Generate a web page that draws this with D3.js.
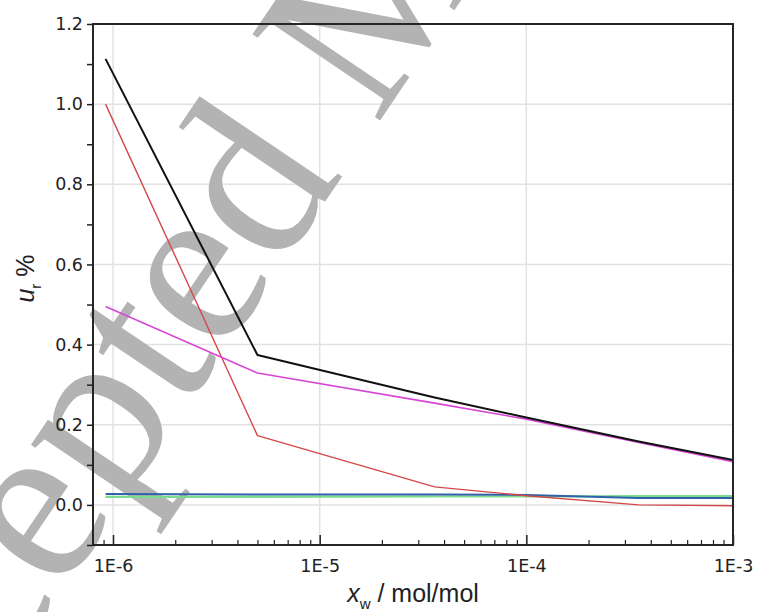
<!DOCTYPE html>
<html>
<head>
<meta charset="utf-8">
<script src="https://cdnjs.cloudflare.com/ajax/libs/d3/7.8.5/d3.min.js"></script>
<style>
  body { margin: 0; background: #fff; }
  svg { display: block; }
  .tick text { font-family: "DejaVu Sans", sans-serif; font-size: 17.5px; fill: #222; }
</style>
</head>
<body>
<svg id="chart" width="758" height="612"></svg>
<script>
// mole fraction of water (x axis, log) and relative uncertainty u_r in %
const xw       = [9.2e-7, 5e-6, 3.6e-5, 1e-4, 3.5e-4, 1e-3];
const uBlack   = [1.113, 0.374, 0.268, 0.218, 0.158, 0.112];
const uMagenta = [0.495, 0.329, 0.254, 0.214, 0.156, 0.108];
const uRed     = [1.000, 0.173, 0.045, 0.023, 0.000, -0.002];
const uBlue    = [0.027, 0.026, 0.026, 0.025, 0.017, 0.017];
const uGreen   = [0.020, 0.020, 0.021, 0.021, 0.022, 0.022];

const yTicks = [0, 0.2, 0.4, 0.6, 0.8, 1.0, 1.2];
const xTicks = [1e-6, 1e-5, 1e-4, 1e-3];
const xTickLabels = ["1E-6", "1E-5", "1E-4", "1E-3"];

const W = 758, H = 612;
const pLeft = 93, pRight = 733, pTop = 24, pBottom = 545;

const svg = d3.select("#chart");

const x = d3.scaleLog().domain([8e-7, 1e-3]).range([pLeft, pRight]);
const y = d3.scaleLinear().domain([-0.1, 1.2]).range([pBottom, pTop]);

// grid
svg.append("g")
  .selectAll("line")
  .data(yTicks.slice(0, -1))
  .join("line")
  .attr("x1", pLeft).attr("x2", pRight)
  .attr("y1", d => y(d)).attr("y2", d => y(d))
  .attr("stroke", "#e2e2e2").attr("stroke-width", 1.5);

svg.append("g")
  .selectAll("line")
  .data(xTicks.slice(0, -1))
  .join("line")
  .attr("x1", d => x(d)).attr("x2", d => x(d))
  .attr("y1", pTop).attr("y2", pBottom)
  .attr("stroke", "#e2e2e2").attr("stroke-width", 1.5);

// "Accepted Manuscript" watermark, under the data
const wm = svg.append("g")
  .attr("transform", "translate(360,150) rotate(-56)")
  .attr("font-family", "Liberation Serif, Times New Roman, serif")
  .attr("font-size", 235)
  .attr("fill", "#b3b3b3");
wm.append("text").attr("x", -29).attr("text-anchor", "end").text("Accepted");
wm.append("text").attr("x", 29).attr("text-anchor", "start").text("Manuscript");

// y axis, ticks every 0.1 pointing out, labels every 0.2
const yAll = d3.range(-1, 13).map(i => i / 10);
const yAxis = svg.append("g")
  .attr("transform", `translate(${pLeft},0)`)
  .call(d3.axisLeft(y)
    .tickValues(yAll)
    .tickSize(6)
    .tickPadding(4)
    .tickFormat(d => {
      const k = Math.round(d * 10);
      return (k >= 0 && k % 2 === 0) ? d3.format(".1f")(d) : "";
    }));
yAxis.select(".domain").remove();
yAxis.selectAll(".tick line").attr("stroke", "#222").attr("stroke-width", 1.5);

// x axis, major ticks inside with labels
const xAxis = svg.append("g")
  .attr("transform", `translate(0,${pBottom})`)
  .call(d3.axisBottom(x)
    .tickValues(xTicks)
    .tickSize(-10)
    .tickPadding(15)
    .tickFormat((d, i) => xTickLabels[i]));
xAxis.select(".domain").remove();
xAxis.selectAll(".tick line").attr("stroke", "#222").attr("stroke-width", 1.5);

// minor ticks
const minors = [];
[1e-7, 1e-6, 1e-5, 1e-4].forEach(dec => {
  for (let m = 2; m <= 9; m++) {
    const v = dec * m;
    if (v > 8e-7 && v < 1e-3) minors.push(v);
  }
});
const xMinor = svg.append("g")
  .attr("transform", `translate(0,${pBottom})`)
  .call(d3.axisBottom(x).tickValues(minors).tickSize(-5).tickFormat(""));
xMinor.select(".domain").remove();
xMinor.selectAll(".tick line").attr("stroke", "#222").attr("stroke-width", 1.2);

// series
const series = [
  { values: uGreen,   color: "#7ddc8c", width: 2.2 },
  { values: uBlue,    color: "#2f62a8", width: 2 },
  { values: uRed,     color: "#d44848", width: 1.4 },
  { values: uMagenta, color: "#d746d7", width: 1.6 },
  { values: uBlack,   color: "#111111", width: 2 }
];

const line = d3.line()
  .x((d, i) => x(xw[i]))
  .y(d => y(d));

svg.append("g")
  .selectAll("path")
  .data(series)
  .join("path")
  .attr("d", d => line(d.values))
  .attr("fill", "none")
  .attr("stroke", d => d.color)
  .attr("stroke-width", d => d.width)
  .attr("stroke-linejoin", "round");

// frame
svg.append("rect")
  .attr("x", pLeft).attr("y", pTop)
  .attr("width", pRight - pLeft).attr("height", pBottom - pTop)
  .attr("fill", "none")
  .attr("stroke", "#262626")
  .attr("stroke-width", 2);

// axis titles
const xt = svg.append("text")
  .attr("x", (pLeft + pRight) / 2)
  .attr("y", 602)
  .attr("text-anchor", "middle")
  .attr("font-family", "Liberation Sans, Arial, sans-serif")
  .attr("font-size", 25)
  .attr("fill", "#222");
xt.append("tspan").attr("font-style", "italic").text("x");
xt.append("tspan").attr("dy", 7).attr("font-size", 15).text("w");
xt.append("tspan").attr("dy", -7).text(" / mol/mol");

const yt = svg.append("text")
  .attr("transform", `translate(34,${(pTop + pBottom) / 2 - 6}) rotate(-90)`)
  .attr("text-anchor", "middle")
  .attr("font-family", "Liberation Sans, Arial, sans-serif")
  .attr("font-size", 25)
  .attr("fill", "#222");
yt.append("tspan").attr("font-style", "italic").text("u");
yt.append("tspan").attr("dy", 7).attr("font-size", 15).text("r");
yt.append("tspan").attr("dy", -7).text(" %");
</script>
</body>
</html>
